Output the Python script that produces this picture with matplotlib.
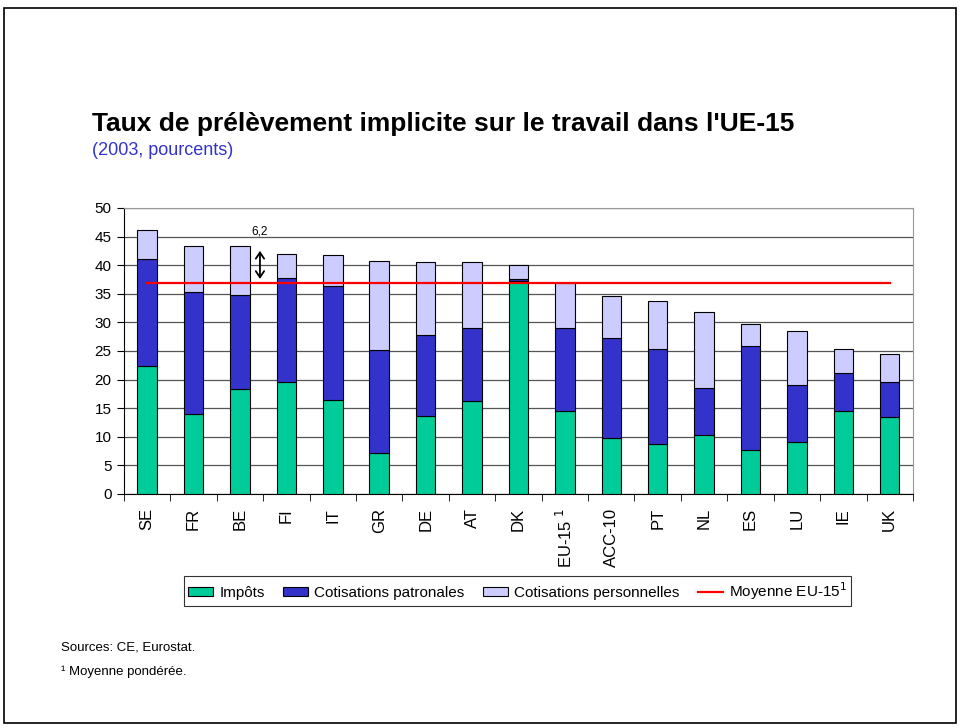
import numpy as np
from matplotlib import pyplot as plt
from matplotlib.patches import Rectangle

plt.rcParams['font.family'] = ['Liberation Sans', 'DejaVu Sans']

countries = ['SE', 'FR', 'BE', 'FI', 'IT', 'GR', 'DE', 'AT', 'DK', 'EU-15 $^1$',
             'ACC-10', 'PT', 'NL', 'ES', 'LU', 'IE', 'UK']
impots = [22.4, 14.0, 18.4, 19.5, 16.4, 7.2, 13.6, 16.2, 37.2, 14.5,
          9.8, 8.8, 10.3, 7.7, 9.1, 14.5, 13.5]
# cumulative tops
top_patronales = [41.1, 35.4, 34.8, 37.7, 36.4, 25.2, 27.8, 29.0, 37.6, 29.1,
                  27.2, 25.4, 18.6, 25.8, 19.0, 21.2, 19.6]
totals = [46.1, 43.3, 43.3, 42.0, 41.8, 40.8, 40.6, 40.5, 40.0, 36.8,
          34.6, 33.7, 31.8, 29.8, 28.5, 25.3, 24.5]
moyenne = 36.8

impots = np.array(impots)
patronales = np.array(top_patronales) - impots
personnelles = np.array(totals) - np.array(top_patronales)

fig = plt.figure(figsize=(9.61, 7.27), dpi=100)
ax = fig.add_axes([0.129, 0.3205, 0.821, 0.3934])

x = np.arange(len(countries))
w = 0.42
b1 = ax.bar(x, impots, w, color='#00CC99', edgecolor='black', lw=0.8,
            label='Impôts', zorder=3)
b2 = ax.bar(x, patronales, w, bottom=impots, color='#3333CC', edgecolor='black',
            lw=0.8, label='Cotisations patronales', zorder=3)
b3 = ax.bar(x, personnelles, w, bottom=impots + patronales, color='#CCCCFF',
            edgecolor='black', lw=0.8, label='Cotisations personnelles', zorder=3)
ln, = ax.plot([x[0], x[-1]], [moyenne, moyenne], color='red', lw=1.6,
              label='Moyenne EU-15$^{1}$', zorder=4)

# arrow showing the gap between BE/FI level and the average
ax.annotate('', xy=(2.43, 43.0), xytext=(2.43, 37.1),
            arrowprops=dict(arrowstyle='<->,head_length=0.45,head_width=0.3',
                            color='black', lw=1.3), zorder=5)
ax.text(2.43, 45.9, '6,2', ha='center', va='center', fontsize=8.5)

ax.set_xlim(-0.5, len(countries) - 0.5)
ax.set_ylim(0, 50)
ax.set_yticks(np.arange(0, 51, 5))
ax.yaxis.grid(True, color='#555555', lw=0.9, zorder=0)
ax.set_axisbelow(True)
ax.tick_params(axis='y', labelsize=11, length=5, direction='out', pad=4)

ax.set_xticks(x)
ax.set_xticklabels(countries, rotation=90, fontsize=12)
ax.tick_params(axis='x', which='major', length=0, pad=10)
ax.set_xticks(np.arange(-0.5, len(countries), 1), minor=True)
ax.tick_params(axis='x', which='minor', length=5, direction='out')

for s in ['top', 'right']:
    ax.spines[s].set_color('#999999')
ax.spines['left'].set_color('black')
ax.spines['bottom'].set_color('black')

fig.text(0.0957, 0.830, "Taux de prélèvement implicite sur le travail dans l'UE-15",
         fontsize=19, fontweight='bold', va='center')
fig.text(0.0957, 0.793, '(2003, pourcents)', fontsize=13, color='#3333CC',
         va='center')

leg = fig.legend(handles=[b1, b2, b3, ln], loc='center',
                 bbox_to_anchor=(0.5385, 0.187), ncol=4, fontsize=11,
                 frameon=True, fancybox=False, handlelength=1.65,
                 handleheight=0.55, handletextpad=0.4, columnspacing=1.2,
                 borderpad=0.25, borderaxespad=0)
leg.get_frame().set_edgecolor('black')
leg.get_frame().set_linewidth(0.8)

fig.text(0.063, 0.110, 'Sources: CE, Eurostat.', fontsize=9.5, va='center')
fig.text(0.063, 0.0757, '¹ Moyenne pondérée.', fontsize=9.5, va='center')

fig.patches.append(Rectangle((0.004, 0.006), 0.991, 0.983, transform=fig.transFigure,
                             fill=False, edgecolor='black', lw=1.2))

fig.savefig('out.png', dpi=100)
